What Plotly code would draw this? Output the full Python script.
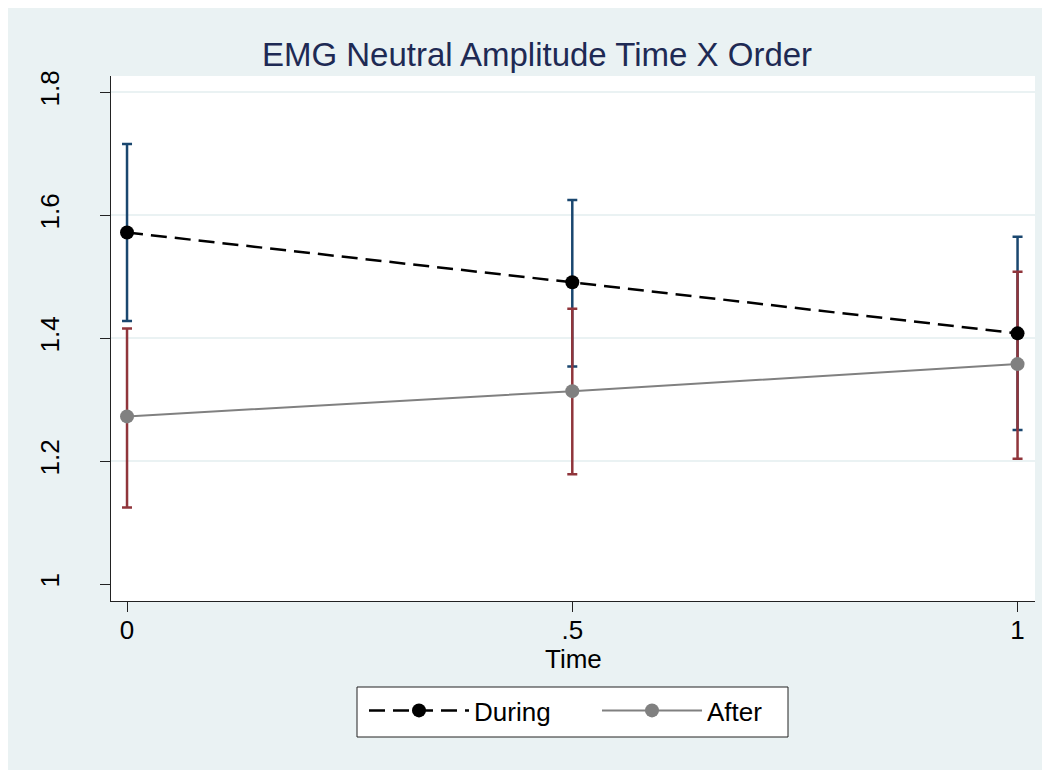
import plotly.graph_objects as go

# Data
time = [0, 0.5, 1]
during_mean = [1.572, 1.491, 1.408]
during_lo = [1.428, 1.354, 1.251]
during_hi = [1.716, 1.625, 1.565]
after_mean = [1.273, 1.314, 1.358]
after_lo = [1.125, 1.179, 1.204]
after_hi = [1.416, 1.448, 1.508]
y_ticks = [1, 1.2, 1.4, 1.6, 1.8]
y_ticklabels = ["1", "1.2", "1.4", "1.6", "1.8"]
y_grid = [1.2, 1.4, 1.6, 1.8]
x_ticks = [0, 0.5, 1]
x_ticklabels = ["0", ".5", "1"]

FONT = "Liberation Sans, Arial, sans-serif"
BLUE = "#1a476f"
MAROON = "#90353b"
GRAY = "#808080"
BG = "#eaf2f3"

W, H = 1042, 762
ML, MR, MT, MB = 103, 15, 68, 169
PW, PH = W - ML - MR, H - MT - MB


def ci_trace(mean, lo, hi, color):
    return go.Scatter(
        x=time, y=mean, mode="markers",
        marker=dict(size=1, color="rgba(0,0,0,0)"),
        error_y=dict(type="data", symmetric=False,
                     array=[h - m for h, m in zip(hi, mean)],
                     arrayminus=[m - l for m, l in zip(mean, lo)],
                     color=color, thickness=2.5, width=5),
        showlegend=False, hoverinfo="skip")


fig = go.Figure()
fig.add_trace(ci_trace(during_mean, during_lo, during_hi, BLUE))
fig.add_trace(ci_trace(after_mean, after_lo, after_hi, MAROON))
fig.add_trace(go.Scatter(
    x=time, y=during_mean, mode="lines+markers", name="During",
    line=dict(color="black", width=2.5, dash="16px,8px"),
    marker=dict(color="black", size=14), legend="legend"))
fig.add_trace(go.Scatter(
    x=time, y=after_mean, mode="lines+markers", name="After",
    line=dict(color=GRAY, width=2),
    marker=dict(color=GRAY, size=14), legend="legend2"))

leg_common = dict(orientation="h", xanchor="left", y=-86 / PH, yanchor="top",
                  bgcolor="rgba(0,0,0,0)", borderwidth=0,
                  font=dict(size=26), itemwidth=100)

fig.update_layout(
    width=W, height=H,
    margin=dict(l=ML, r=MR, t=MT, b=MB),
    paper_bgcolor=BG, plot_bgcolor="white",
    font=dict(family=FONT, color="black", size=26),
    title=dict(text="EMG Neutral Amplitude Time X Order",
               font=dict(family=FONT, size=33, color="#1e2a54"),
               x=529 / W, xanchor="center", xref="container",
               y=1 - 46 / H, yanchor="middle", yref="container"),
    xaxis=dict(range=[-0.018, 1.0196], tickvals=x_ticks, ticktext=x_ticklabels,
               showgrid=False, zeroline=False, showline=True, linecolor="#222",
               linewidth=1, ticks="outside", ticklen=10, tickcolor="#222",
               tickfont=dict(size=26), ticklabelstandoff=-4),
    yaxis=dict(range=[0.9728, 1.8265], tickvals=y_ticks, ticktext=y_ticklabels,
               tickangle=-90, showgrid=False, zeroline=False, showline=True,
               linecolor="#222", linewidth=1, ticks="outside", ticklen=10,
               tickcolor="#222", tickfont=dict(size=26), ticklabelstandoff=31,
               minor=dict(tickvals=y_grid, showgrid=True,
                          gridcolor=BG, gridwidth=2, ticks="")),
    legend=dict(x=(356 - ML) / PW, **leg_common),
    legend2=dict(x=(589 - ML) / PW, **leg_common),
    shapes=[
        dict(type="rect", xref="paper", yref="paper", layer="above",
             x0=(349 - ML) / PW, x1=(780 - ML) / PW,
             y0=(593 - 729) / PH, y1=(593 - 679) / PH,
             fillcolor="white", line=dict(color="#222", width=1)),
    ],
    annotations=[
        dict(text="Time", xref="paper", yref="paper", x=0.5, y=(593 - 651) / PH,
             xanchor="center", yanchor="middle", showarrow=False,
             font=dict(size=26, color="black")),
    ],
)

fig.write_html("out.html")
